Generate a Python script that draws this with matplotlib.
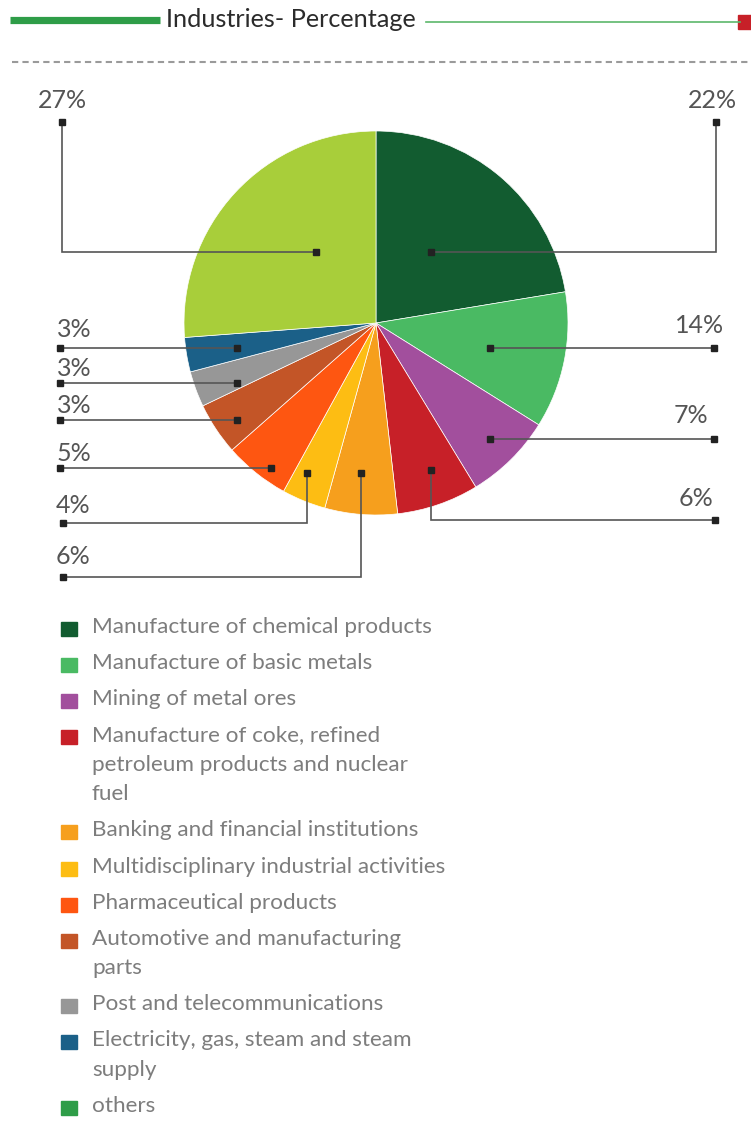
import matplotlib.pyplot as plt
from matplotlib.patches import Rectangle

# Slice shares (clockwise from 12 o'clock)
industries = [
    "Manufacture of chemical products",
    "Manufacture of basic metals",
    "Mining of metal ores",
    "Manufacture of coke, refined\npetroleum products and nuclear\nfuel",
    "Banking and financial institutions",
    "Multidisciplinary industrial activities",
    "Pharmaceutical products",
    "Automotive and manufacturing\nparts",
    "Post and telecommunications",
    "Electricity, gas, steam and steam\nsupply",
    "others",
]
shares = [22.4, 11.5, 7.4, 6.9, 6.1, 3.7, 5.5, 4.4, 3.0, 2.9, 26.2]
pct_labels = ["22%", "14%", "7%", "6%", "6%", "4%", "5%", "3%", "3%", "3%", "27%"]

slice_colors = ["#125c30", "#4aba63", "#a24f9d", "#c72028", "#f69f1d", "#fdbd13",
                "#fe5611", "#c35527", "#979797", "#1b6088", "#a8ce3a"]
legend_colors = slice_colors[:-1] + ["#2e9d48"]

W, H = 751, 1126


def Y(p):
    # pixel row (from top) -> data y
    return H - p


# leader layout in pixels: path points (inner -> outer), label x, label baseline, align
leaders = [
    ([(431, 252), (716, 252), (716, 122)], 737, 108, "right"),
    ([(490, 348), (714, 348)], 724, 333, "right"),
    ([(490, 439), (714, 439)], 708, 423, "right"),
    ([(431, 470), (431, 520), (715, 520)], 713, 506, "right"),
    ([(361, 473), (361, 577), (63, 577)], 56, 564, "left"),
    ([(307, 473), (307, 523), (63, 523)], 56, 513, "left"),
    ([(271, 468), (60, 468)], 57, 461, "left"),
    ([(237, 420), (60, 420)], 57, 413, "left"),
    ([(237, 383), (60, 383)], 57, 376, "left"),
    ([(237, 348), (60, 348)], 57, 337, "left"),
    ([(316, 252), (62, 252), (62, 122)], 38, 108, "left"),
]

fig = plt.figure(figsize=(W / 100, H / 100), dpi=100)
ax = fig.add_axes([0, 0, 1, 1])

ax.pie(shares, colors=slice_colors, startangle=90, counterclock=False,
       center=(376, Y(323)), radius=192,
       wedgeprops=dict(edgecolor="white", linewidth=0.5))

# header
ax.plot([10, 160], [Y(20), Y(20)], color="#2e9d48", lw=5.2, solid_capstyle="butt")
ax.text(166, Y(27), "Industries- Percentage", fontsize=18.2, family="Lato",
        color="#2b2b2b", ha="left", va="baseline")
ax.plot([426, 740], [Y(21.5), Y(21.5)], color="#5cb86b", lw=1.2)
ax.add_patch(Rectangle((738, Y(29)), 14, 14, color="#c72028"))
ax.plot([12, 751], [Y(62), Y(62)], color="#9a9a9a", lw=1.5, ls=(0, (3, 2)))

# leader lines and percentage labels
for (pts, tx, ty, ha), lab in zip(leaders, pct_labels):
    xs = [p[0] for p in pts]
    ys = [Y(p[1]) for p in pts]
    ax.plot(xs, ys, color="#555555", lw=1.2, solid_joinstyle="miter")
    ax.plot([xs[0], xs[-1]], [ys[0], ys[-1]], ls="none", marker="s", ms=4.3,
            color="#222222")
    ax.text(tx, Y(ty), lab, fontsize=18, family="Lato", color="#555555",
            ha=ha, va="baseline")

# legend
base = 633
for name, col in zip(industries, legend_colors):
    ax.add_patch(Rectangle((61, Y(base + 3)), 16, 14, color=col))
    lines = name.split("\n")
    for j, line in enumerate(lines):
        ax.text(92, Y(base + j * 29.5), line, fontsize=16.2, family="Lato",
                color="#7d7d7d", ha="left", va="baseline")
    base += 36.1 + 29.5 * (len(lines) - 1)

ax.set_xlim(0, W)
ax.set_ylim(0, H)
ax.axis("off")

fig.savefig("out.png", dpi=100, facecolor="white")
